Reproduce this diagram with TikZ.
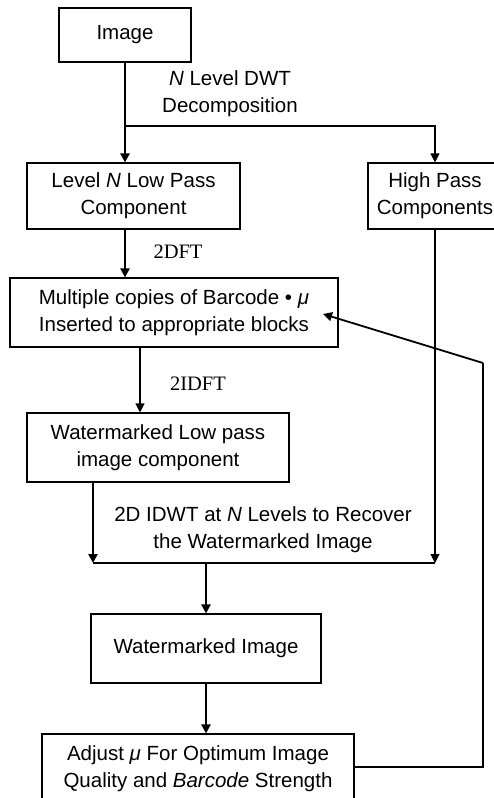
\documentclass[tikz,border=0pt]{standalone}
\usepackage{fontspec}
\setmainfont{Liberation Sans}
\newfontfamily\serifft{Liberation Serif}
\usetikzlibrary{arrows.meta}
\begin{document}
\begin{tikzpicture}[x=1pt,y=-1pt,
  box/.style={draw,line width=1.1pt,align=center,inner sep=0pt,font=\fontsize{20.5}{27}\selectfont},
  lbl/.style={align=center,inner sep=0pt,font=\fontsize{20.5}{27}\selectfont},
  thickarr/.style={line width=2.6pt,-{Triangle[width=9pt,length=9pt]}},
  thinarr/.style={line width=1.1pt,-{Triangle[width=9pt,length=9pt]}},
  thinline/.style={line width=1.1pt}]
\useasboundingbox (0,0) rectangle (494,798);
\node[box,minimum width=132pt,minimum height=54pt] (img) at (125,35) {Image};
\node[box,minimum width=213pt,minimum height=66pt] (low) at (133.5,196) {Level \textit{N} Low Pass\\Component};
\node[box,minimum width=134pt,minimum height=66pt] (high) at (435,196) {High Pass\\Components};
\node[box,minimum width=328pt,minimum height=69pt] (multi) at (174,312.5) {Multiple copies of Barcode • \textit{μ}\\Inserted to appropriate blocks};
\node[box,minimum width=262pt,minimum height=69pt] (wlp) at (158,447.5) {Watermarked Low pass\\image component};
\node[box,minimum width=230pt,minimum height=69pt] (wi) at (206,648.5) {Watermarked Image};
\node[box,minimum width=312pt,minimum height=69pt] (adj) at (198,768.5) {Adjust \textit{μ} For Optimum Image\\Quality and \textit{Barcode} Strength};
\node[lbl] (dwt) at (230,94) {\textit{N} Level DWT\\Decomposition};
\node[lbl,font=\serifft\fontsize{20.5}{27}\selectfont] (dft) at (178,252) {2DFT};
\node[lbl,font=\serifft\fontsize{20.5}{27}\selectfont] (idft) at (198,384) {2IDFT};
\node[lbl] (idwt) at (263,530) {2D IDWT at \textit{N} Levels to Recover\\the Watermarked Image};
\coordinate (br) at (125,126);
\coordinate (c2) at (140,0);
\coordinate (c3) at (93,563);
\coordinate (j2) at (435,563);
\coordinate (fb1) at (483,767);
\coordinate (fb2) at (483,363);
\coordinate (fbt) at (323,314);
\draw[thickarr] (img.south) -- (img.south |- low.north);
\draw[thinarr] (br) -| (high.north);
\draw[thickarr] (img.south |- low.south) -- (img.south |- multi.north);
\draw[thinarr] (c2 |- multi.south) -- (c2 |- wlp.north);
\draw[thickarr] (c3 |- wlp.south) -- (c3);
\draw[thinarr] (high.south) -- (j2);
\draw[thinline] (c3) -- (j2);
\draw[thickarr] (wi.north |- c3) -- (wi.north);
\draw[thickarr] (wi.south) -- (wi.south |- adj.north);
\draw[thinline] (adj.east |- fb1) -- (fb1) -- (fb2);
\draw[thickarr,line width=1.8pt] (fb2) -- (fbt);
\end{tikzpicture}
\end{document}
